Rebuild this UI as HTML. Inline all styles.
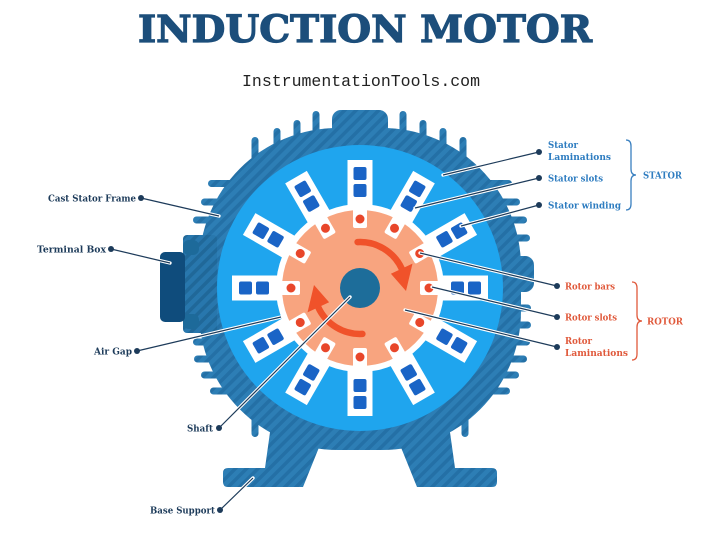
<!DOCTYPE html>
<html><head><meta charset="utf-8"><style>
html,body{margin:0;padding:0;background:#fff;}
svg{display:block;}
</style></head><body>
<svg width="720" height="533" viewBox="0 0 720 533" xmlns="http://www.w3.org/2000/svg">
<defs>
<pattern id="h" width="8" height="8" patternUnits="userSpaceOnUse" patternTransform="rotate(45)">
<rect width="8" height="8" fill="#2d7eb5"/><rect width="3.5" height="8" fill="#2470a6"/>
</pattern>
<pattern id="h2" width="8" height="8" patternUnits="userSpaceOnUse" patternTransform="rotate(45)">
<rect width="8" height="8" fill="#2877ad"/><rect width="3.5" height="8" fill="#206899"/>
</pattern>
</defs>
<rect width="720" height="533" fill="#fff"/>

<!-- title -->
<text x="138" y="42" font-family="DejaVu Serif, Liberation Serif, serif" font-weight="bold" font-size="37" fill="#1c4e7b" stroke="#1c4e7b" stroke-width="1.2" textLength="454" lengthAdjust="spacingAndGlyphs">INDUCTION MOTOR</text>
<text x="242" y="86" font-family="Liberation Mono, monospace" font-size="16.5" fill="#222" textLength="238" lengthAdjust="spacingAndGlyphs">InstrumentationTools.com</text>

<!-- base -->
<path d="M272 418 L265 468 L228 468 Q223 468 223 473 L223 482 Q223 487 228 487 L303 487 L322 440 L398 440 L417 487 L492 487 Q497 487 497 482 L497 473 Q497 468 492 468 L455 468 L448 418 Z" fill="url(#h)"/>

<g fill="url(#h)">
<!-- top vertical fins -->
<rect x="251.5" y="137" width="7" height="70" rx="3.5"/>
<rect x="273.5" y="128" width="7" height="70" rx="3.5"/>
<rect x="293.5" y="120" width="7" height="70" rx="3.5"/>
<rect x="312.5" y="111" width="7" height="70" rx="3.5"/>
<rect x="399.5" y="111" width="7" height="70" rx="3.5"/>
<rect x="419.5" y="120" width="7" height="70" rx="3.5"/>
<rect x="439.5" y="128" width="7" height="70" rx="3.5"/>
<rect x="459.5" y="137" width="7" height="70" rx="3.5"/>
<!-- top hump -->
<rect x="332" y="110" width="56" height="45" rx="9"/>
<!-- left fins -->
<rect x="208" y="180" width="60" height="7" rx="3.5"/>
<rect x="201" y="198.5" width="60" height="7" rx="3.5"/>
<rect x="193" y="216.5" width="60" height="7" rx="3.5"/>
<rect x="193" y="338.5" width="60" height="7" rx="3.5"/>
<rect x="194" y="355.5" width="60" height="7" rx="3.5"/>
<rect x="201" y="371.5" width="60" height="7" rx="3.5"/>
<rect x="210" y="387.5" width="60" height="7" rx="3.5"/>
<!-- right fins -->
<rect x="452" y="180" width="60" height="7" rx="3.5"/>
<rect x="460" y="198.5" width="60" height="7" rx="3.5"/>
<rect x="467" y="216.5" width="60" height="7" rx="3.5"/>
<rect x="470" y="234.5" width="60" height="7" rx="3.5"/>
<rect x="480" y="256" width="54" height="36" rx="9"/>
<rect x="471" y="304.5" width="60" height="7" rx="3.5"/>
<rect x="471" y="321.5" width="60" height="7" rx="3.5"/>
<rect x="470" y="338.5" width="60" height="7" rx="3.5"/>
<rect x="467" y="355.5" width="60" height="7" rx="3.5"/>
<rect x="459" y="371.5" width="60" height="7" rx="3.5"/>
<rect x="450" y="387.5" width="60" height="7" rx="3.5"/>
<!-- small fins near legs -->
<rect x="251.5" y="395" width="7" height="42" rx="3.5"/>
<rect x="461.5" y="395" width="7" height="42" rx="3.5"/>
<!-- frame body (rounded square-ish) -->
<rect x="199" y="128" width="322" height="322" rx="139"/>
</g>

<!-- terminal box -->
<rect x="183" y="235" width="34" height="98" rx="4" fill="url(#h2)"/>
<rect x="183" y="240" width="16" height="15" rx="6" fill="#1d6a9a"/>
<rect x="183" y="314" width="16" height="15" rx="6" fill="#1d6a9a"/>
<rect x="160" y="252" width="25" height="70" rx="5" fill="#0f4c7c"/>

<!-- stator laminations -->
<circle cx="360" cy="288" r="143" fill="#1fa5ee"/>

<!-- stator slots -->
<g id="slot">
<rect x="347.5" y="160" width="25" height="48" fill="#fff"/>
<rect x="353.5" y="167" width="13" height="13" rx="2" fill="#1a64c6"/>
<rect x="353.5" y="184" width="13" height="13" rx="2" fill="#1a64c6"/>
</g>
<use href="#slot" transform="rotate(30 360 288)"/>
<use href="#slot" transform="rotate(60 360 288)"/>
<use href="#slot" transform="rotate(90 360 288)"/>
<use href="#slot" transform="rotate(120 360 288)"/>
<use href="#slot" transform="rotate(150 360 288)"/>
<use href="#slot" transform="rotate(180 360 288)"/>
<use href="#slot" transform="rotate(210 360 288)"/>
<use href="#slot" transform="rotate(240 360 288)"/>
<use href="#slot" transform="rotate(270 360 288)"/>
<use href="#slot" transform="rotate(300 360 288)"/>
<use href="#slot" transform="rotate(330 360 288)"/>

<!-- rotor -->
<circle cx="360" cy="288" r="84" fill="#fff"/>
<circle cx="360" cy="288" r="78" fill="#f8a47f"/>
<g id="bar">
<rect x="353" y="207" width="14" height="21" rx="2" fill="#fff"/>
<circle cx="360" cy="219" r="4.5" fill="#e8462a"/>
</g>
<use href="#bar" transform="rotate(30 360 288)"/>
<use href="#bar" transform="rotate(60 360 288)"/>
<use href="#bar" transform="rotate(90 360 288)"/>
<use href="#bar" transform="rotate(120 360 288)"/>
<use href="#bar" transform="rotate(150 360 288)"/>
<use href="#bar" transform="rotate(180 360 288)"/>
<use href="#bar" transform="rotate(210 360 288)"/>
<use href="#bar" transform="rotate(240 360 288)"/>
<use href="#bar" transform="rotate(270 360 288)"/>
<use href="#bar" transform="rotate(300 360 288)"/>
<use href="#bar" transform="rotate(330 360 288)"/>

<!-- shaft -->
<circle cx="360" cy="288" r="20" fill="#1d6d9a"/>

<!-- arrows -->
<g fill="none" stroke="#f0522a" stroke-width="6.5" stroke-linecap="round">
<path d="M357.6 242.1 A46 46 0 0 1 401.7 268.6"/>
<path d="M362.4 333.9 A46 46 0 0 1 318.3 307.4"/>
</g>
<polygon points="412.5,263.6 390.9,273.7 406,291" fill="#f0522a"/>
<polygon points="307.5,312.4 329.1,302.3 314,285" fill="#f0522a"/>

<!-- leader lines -->
<g stroke="#fff" stroke-width="3.4" fill="none" stroke-linecap="round">
<line x1="141" y1="198" x2="219" y2="216"/>
<line x1="111" y1="249" x2="170" y2="263"/>
<line x1="137" y1="351" x2="281" y2="317"/>
<line x1="219" y1="428" x2="350" y2="297"/>
<line x1="220" y1="510" x2="253" y2="478"/>
<line x1="443" y1="175" x2="539" y2="152"/>
<line x1="415" y1="208" x2="539" y2="178"/>
<line x1="461" y1="226" x2="539" y2="205"/>
<line x1="420" y1="253" x2="557" y2="286"/>
<line x1="432" y1="287" x2="557" y2="317"/>
<line x1="405" y1="310" x2="557" y2="347"/>
</g>
<g stroke="#1d3b5a" stroke-width="1.2" fill="none">
<line x1="141" y1="198" x2="219" y2="216"/>
<line x1="111" y1="249" x2="170" y2="263"/>
<line x1="137" y1="351" x2="281" y2="317"/>
<line x1="219" y1="428" x2="350" y2="297"/>
<line x1="220" y1="510" x2="253" y2="478"/>
<line x1="443" y1="175" x2="539" y2="152"/>
<line x1="415" y1="208" x2="539" y2="178"/>
<line x1="461" y1="226" x2="539" y2="205"/>
<line x1="420" y1="253" x2="557" y2="286"/>
<line x1="432" y1="287" x2="557" y2="317"/>
<line x1="405" y1="310" x2="557" y2="347"/>
</g>
<g fill="#1d3b5a">
<circle cx="141" cy="198" r="3"/>
<circle cx="111" cy="249" r="3"/>
<circle cx="137" cy="351" r="3"/>
<circle cx="219" cy="428" r="3"/>
<circle cx="220" cy="510" r="3"/>
<circle cx="539" cy="152" r="3"/>
<circle cx="539" cy="178" r="3"/>
<circle cx="539" cy="205" r="3"/>
<circle cx="557" cy="286" r="3"/>
<circle cx="557" cy="317" r="3"/>
<circle cx="557" cy="347" r="3"/>
</g>

<!-- labels left -->
<g font-family="DejaVu Serif, Liberation Serif, serif" font-weight="bold" font-size="9" fill="#1d3b5a">
<text x="48" y="201.5" textLength="88" lengthAdjust="spacingAndGlyphs">Cast Stator Frame</text>
<text x="37" y="252.5" textLength="69" lengthAdjust="spacingAndGlyphs">Terminal Box</text>
<text x="94" y="354.5" textLength="38" lengthAdjust="spacingAndGlyphs">Air Gap</text>
<text x="187" y="431.5" textLength="26" lengthAdjust="spacingAndGlyphs">Shaft</text>
<text x="150" y="513.5" textLength="65" lengthAdjust="spacingAndGlyphs">Base Support</text>
</g>
<!-- stator labels -->
<g font-family="DejaVu Serif, Liberation Serif, serif" font-weight="bold" font-size="9" fill="#2d7cc0">
<text x="548" y="148" textLength="30" lengthAdjust="spacingAndGlyphs">Stator</text>
<text x="548" y="160" textLength="63" lengthAdjust="spacingAndGlyphs">Laminations</text>
<text x="548" y="181.5" textLength="55" lengthAdjust="spacingAndGlyphs">Stator slots</text>
<text x="548" y="208.5" textLength="73" lengthAdjust="spacingAndGlyphs">Stator winding</text>
<text x="643" y="178.5" textLength="39" lengthAdjust="spacingAndGlyphs">STATOR</text>
</g>
<path d="M626 140 Q631 140 631 146 L631 169 Q631 175 636 175 Q631 175 631 181 L631 204 Q631 210 626 210" fill="none" stroke="#3a80c0" stroke-width="1.3"/>
<!-- rotor labels -->
<g font-family="DejaVu Serif, Liberation Serif, serif" font-weight="bold" font-size="9" fill="#e0593b">
<text x="565" y="289.5" textLength="50" lengthAdjust="spacingAndGlyphs">Rotor bars</text>
<text x="565" y="320.5" textLength="52" lengthAdjust="spacingAndGlyphs">Rotor slots</text>
<text x="565" y="344" textLength="27" lengthAdjust="spacingAndGlyphs">Rotor</text>
<text x="565" y="356" textLength="63" lengthAdjust="spacingAndGlyphs">Laminations</text>
<text x="647" y="324.5" textLength="36" lengthAdjust="spacingAndGlyphs">ROTOR</text>
</g>
<path d="M632 282 Q637 282 637 288 L637 315 Q637 321 642 321 Q637 321 637 327 L637 354 Q637 360 632 360" fill="none" stroke="#e0593b" stroke-width="1.3"/>
</svg>
</body></html>
